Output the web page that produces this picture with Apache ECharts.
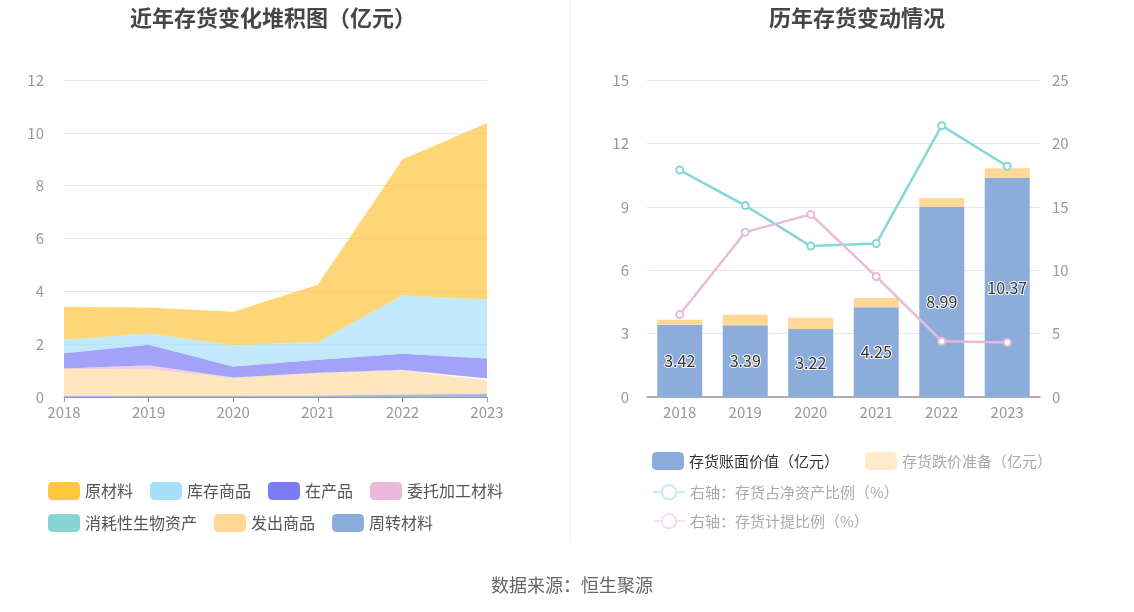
<!DOCTYPE html>
<html>
<head>
<meta charset="utf-8">
<script src="https://cdn.jsdelivr.net/npm/echarts@6/dist/echarts.min.js"></script>
<style>
  html, body { margin: 0; padding: 0; background: #fff; }
  #main { width: 1134px; height: 612px; }
</style>
</head>
<body>
<div id="main"></div>
<script>
var years = ['2018', '2019', '2020', '2021', '2022', '2023'];

// 左图：存货构成（亿元）
var rawMaterial = [1.25, 0.99, 1.27, 2.17, 5.15, 6.68];   // 原材料
var finishedGoods = [0.51, 0.42, 0.81, 0.67, 2.20, 2.23]; // 库存商品
var wip = [0.58, 0.78, 0.41, 0.49, 0.61, 0.76];           // 在产品
var consigned = [0.02, 0.15, 0.01, 0.02, 0.03, 0.07];     // 委托加工材料
var bioAssets = [0, 0, 0.01, 0, 0, 0];                    // 消耗性生物资产
var shipped = [1.02, 1.00, 0.67, 0.84, 0.91, 0.51];       // 发出商品
var turnover = [0.04, 0.05, 0.05, 0.06, 0.09, 0.12];      // 周转材料

// 右图
var bookValue = [3.42, 3.39, 3.22, 4.25, 8.99, 10.37];    // 存货账面价值
var provision = [0.24, 0.50, 0.53, 0.44, 0.43, 0.46];     // 存货跌价准备
var netAssetRatio = [17.9, 15.1, 11.9, 12.1, 21.4, 18.2]; // 存货占净资产比例
var provisionRatio = [6.5, 13.0, 14.4, 9.5, 4.4, 4.3];    // 存货计提比例

var FONT = '"Noto Sans CJK SC", "Noto Sans", sans-serif';
var chart = echarts.init(document.getElementById('main'));

function area(name, data, color, opacity) {
    return {
        name: name,
        type: 'line',
        stack: 'total',
        data: data,
        symbol: 'none',
        lineStyle: { width: 0 },
        itemStyle: { color: color },
        areaStyle: { color: color, opacity: opacity }
    };
}

function leftLegend(top, names) {
    return {
        left: 43, top: top, icon: 'roundRect',
        itemWidth: 32, itemHeight: 18, itemGap: 17,
        textStyle: { fontSize: 16, color: '#555', fontFamily: FONT },
        data: names
    };
}

function rightLegend(top, items) {
    return {
        left: 647, top: top,
        itemWidth: 32, itemHeight: 18, itemGap: 26,
        textStyle: { fontSize: 15, color: '#aaa', fontFamily: FONT },
        data: items
    };
}

var option = {
    textStyle: { fontFamily: FONT },
    animation: false,
    title: [
        {
            text: '近年存货变化堆积图（亿元）',
            left: 268, top: 2, textAlign: 'center',
            textStyle: { fontSize: 22, fontWeight: 'bold', color: '#464646', fontFamily: FONT }
        },
        {
            text: '历年存货变动情况',
            left: 852, top: 2, textAlign: 'center',
            textStyle: { fontSize: 22, fontWeight: 'bold', color: '#464646', fontFamily: FONT }
        },
        {
            text: '数据来源：恒生聚源',
            left: 567, top: 571, textAlign: 'center',
            textStyle: { fontSize: 18, fontWeight: 'normal', color: '#666', fontFamily: FONT }
        }
    ],
    graphic: [
        {
            type: 'line',
            shape: { x1: 570, y1: 0, x2: 570, y2: 542 },
            style: { stroke: '#eeeeee', lineWidth: 1 }
        }
    ],
    legend: [
        leftLegend(477, ['原材料', '库存商品', '在产品', '委托加工材料']),
        leftLegend(509, ['消耗性生物资产', '发出商品', '周转材料']),
        rightLegend(447, [
            { name: '存货账面价值（亿元）', textStyle: { color: '#333' } },
            { name: '存货跌价准备（亿元）', itemStyle: { color: '#FFEBCB' } }
        ]),
        rightLegend(479, [
            { name: '右轴：存货占净资产比例（%）', itemStyle: { color: '#fff', borderColor: '#C3EBEC' }, lineStyle: { color: '#C3EBEC' } }
        ]),
        rightLegend(508, [
            { name: '右轴：存货计提比例（%）', itemStyle: { color: '#fff', borderColor: '#F3DDEE' }, lineStyle: { color: '#F3DDEE' } }
        ])
    ],
    grid: [
        { left: 64, right: 1134 - 487, top: 80, bottom: 612 - 397 },
        { left: 647, right: 1134 - 1040, top: 80, bottom: 612 - 397 }
    ],
    xAxis: [
        {
            gridIndex: 0, type: 'category', data: years, boundaryGap: false,
            axisLine: { lineStyle: { color: '#999' } },
            axisTick: { lineStyle: { color: '#999' } },
            axisLabel: { color: '#999', fontSize: 15, margin: 8 }
        },
        {
            gridIndex: 1, type: 'category', data: years,
            axisLine: { lineStyle: { color: '#999', width: 1.5 } },
            axisTick: { alignWithLabel: true, lineStyle: { color: '#999' } },
            axisLabel: { color: '#999', fontSize: 15, margin: 8 }
        }
    ],
    yAxis: [
        {
            gridIndex: 0, type: 'value', min: 0, max: 12, interval: 2,
            axisLabel: { color: '#999', fontSize: 15, margin: 20 },
            splitLine: { lineStyle: { color: '#E3E8F4' } }
        },
        {
            gridIndex: 1, type: 'value', min: 0, max: 15, interval: 3,
            axisLabel: { color: '#999', fontSize: 15, margin: 18 },
            splitLine: { lineStyle: { color: '#E3E8F4' } }
        },
        {
            gridIndex: 1, type: 'value', min: 0, max: 25, interval: 5, position: 'right',
            axisLabel: { color: '#999', fontSize: 15, margin: 12 },
            splitLine: { show: false }
        }
    ],
    series: [
        area('周转材料', turnover, '#8CADDB', 0.8),
        area('发出商品', shipped, '#FFD898', 0.65),
        area('消耗性生物资产', bioAssets, '#86D6D8', 0.7),
        area('委托加工材料', consigned, '#E8B9DA', 0.7),
        area('在产品', wip, '#7B7BF7', 0.7),
        area('库存商品', finishedGoods, '#A6DFF9', 0.7),
        area('原材料', rawMaterial, '#FFC53D', 0.7),
        {
            name: '存货账面价值（亿元）', type: 'bar', stack: 'inv',
            xAxisIndex: 1, yAxisIndex: 1, data: bookValue, barWidth: 45,
            itemStyle: { color: '#8CADDB' },
            label: {
                show: true, position: 'inside', fontSize: 16, color: '#333',
                textBorderColor: '#fff', textBorderWidth: 2, fontFamily: FONT
            }
        },
        {
            name: '存货跌价准备（亿元）', type: 'bar', stack: 'inv',
            xAxisIndex: 1, yAxisIndex: 1, data: provision, barWidth: 45,
            itemStyle: { color: '#FFD898' }
        },
        {
            name: '右轴：存货占净资产比例（%）', type: 'line',
            xAxisIndex: 1, yAxisIndex: 2, data: netAssetRatio,
            symbol: 'circle', symbolSize: 7,
            lineStyle: { color: '#86D6D8', width: 2.5 },
            itemStyle: { color: '#fff', borderColor: '#86D6D8', borderWidth: 2 }
        },
        {
            name: '右轴：存货计提比例（%）', type: 'line',
            xAxisIndex: 1, yAxisIndex: 2, data: provisionRatio,
            symbol: 'circle', symbolSize: 7,
            lineStyle: { color: '#E8B9DA', width: 2.5 },
            itemStyle: { color: '#fff', borderColor: '#E8B9DA', borderWidth: 2 }
        }
    ]
};

chart.setOption(option);
</script>
</body>
</html>
